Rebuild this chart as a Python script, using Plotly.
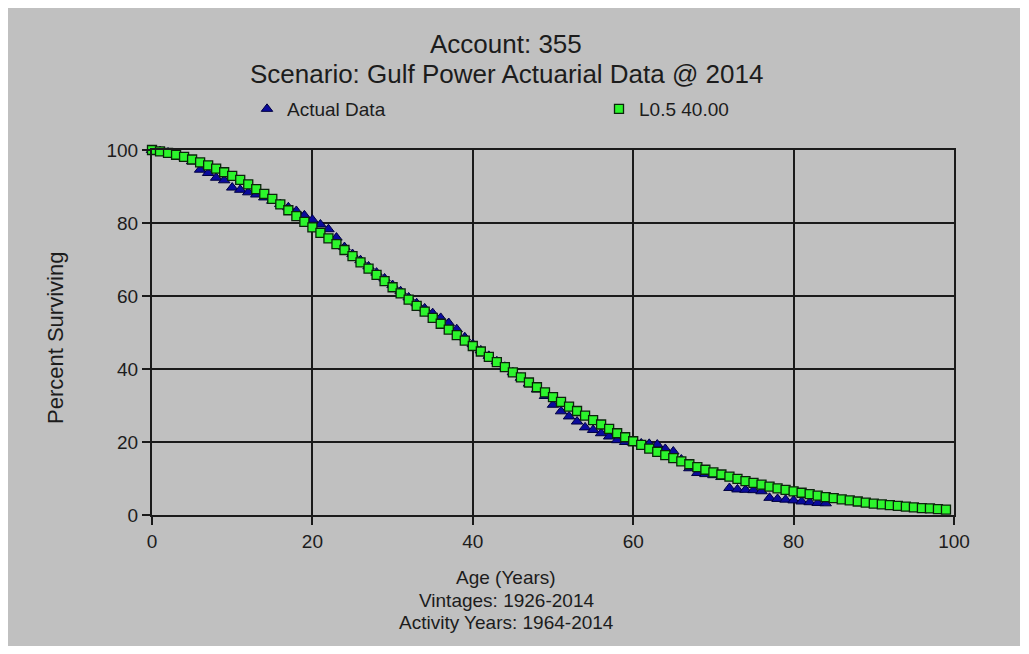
import plotly.graph_objects as go

# Survivor curve data (percent surviving by age in years)
fit_ages = list(range(0, 100))
fit_pct = [
    100.0, 99.6, 99.2, 98.7, 98.1, 97.4, 96.6, 95.8, 94.9, 93.9,
    92.9, 91.8, 90.6, 89.3, 88.0, 86.6, 85.1, 83.5, 81.9, 80.3,
    78.8, 77.3, 75.8, 74.2, 72.6, 70.9, 69.2, 67.5, 65.8, 64.1,
    62.4, 60.7, 59.0, 57.3, 55.7, 54.0, 52.4, 50.8, 49.3, 47.8,
    46.3, 44.8, 43.3, 41.9, 40.5, 39.1, 37.7, 36.3, 35.0, 33.6,
    32.3, 31.0, 29.7, 28.5, 27.2, 26.0, 24.8, 23.6, 22.4, 21.3,
    20.2, 19.2, 18.2, 17.3, 16.4, 15.6, 14.7, 13.9, 13.1, 12.4,
    11.7, 11.1, 10.5, 9.9, 9.3, 8.8, 8.3, 7.8, 7.3, 6.9,
    6.5, 6.1, 5.7, 5.3, 4.9, 4.6, 4.3, 4.0, 3.7, 3.4,
    3.1, 2.9, 2.7, 2.5, 2.3, 2.1, 1.9, 1.8, 1.6, 1.5,
]

actual_ages = list(range(0, 85))
actual_pct = [
    100.0, 99.7, 99.3, 98.8, 98.0, 96.9, 94.6, 93.7, 92.4, 91.7,
    89.7, 89.1, 88.4, 87.8, 87.0, 86.1, 85.2, 84.3, 83.3, 82.1,
    80.9, 79.6, 78.3, 76.0, 73.4, 71.5, 69.8, 68.1, 66.4, 64.8,
    63.0, 61.3, 59.6, 58.0, 56.6, 55.3, 54.0, 52.6, 50.9, 48.7,
    46.8, 45.1, 43.6, 42.1, 40.6, 39.1, 37.6, 36.0, 34.4, 32.6,
    30.2, 28.4, 27.0, 25.6, 24.0, 23.3, 22.4, 21.5, 20.5, 20.0,
    19.8, 19.6, 19.5, 19.3, 18.1, 17.4, 15.2, 12.8, 11.5, 11.2,
    10.9, 10.4, 7.4, 7.0, 6.9, 6.8, 6.5, 4.7, 4.4, 4.2,
    4.0, 3.7, 3.5, 3.3, 3.2,
]

tick_vals = [0, 20, 40, 60, 80, 100]

FONT = "Liberation Sans, Arial, sans-serif"
INK = "#1c1c1c"
PANEL = "#c0c0c0"

W, H = 1029, 654
L, R, T, B = 152, 75, 150, 139
PW, PH = W - L - R, H - T - B


def px_x(p):
    return (p - L) / PW


def px_y(p):
    return (H - B - p) / PH


fig = go.Figure()

fig.add_trace(go.Scatter(
    x=actual_ages, y=actual_pct, mode="markers", name="Actual Data",
    cliponaxis=False,
    marker=dict(symbol="triangle-up", size=10, color="#0a0a9c",
                line=dict(color="#000040", width=1)),
))
fig.add_trace(go.Scatter(
    x=fit_ages, y=fit_pct, mode="markers", name="L0.5 40.00",
    cliponaxis=False,
    marker=dict(symbol="square", size=9, color="#2cf52c",
                line=dict(color="#0b240b", width=1.3)),
))

axis_common = dict(
    range=[0, 100], tickvals=tick_vals, showgrid=True, gridcolor="#1a1a1a",
    gridwidth=1.6, zeroline=False, showline=True, mirror=True,
    linecolor="#1a1a1a", linewidth=2, ticks="outside", ticklen=8,
    tickcolor="#1a1a1a", tickwidth=1.5,
    tickfont=dict(family=FONT, size=19, color=INK),
)
fig.update_xaxes(**axis_common)
fig.update_yaxes(**axis_common)

cx = px_x(506)
annotations = [
    dict(text="Account: 355", x=cx, y=px_y(44), size=26),
    dict(text="Scenario: Gulf Power Actuarial Data @ 2014", x=cx, y=px_y(74), size=26),
    dict(text="Age (Years)", x=cx, y=px_y(577), size=19),
    dict(text="Vintages: 1926-2014", x=cx, y=px_y(600), size=19),
    dict(text="Activity Years: 1964-2014", x=cx, y=px_y(622), size=19),
]
ann = [
    dict(text=a["text"], x=a["x"], y=a["y"], xref="paper", yref="paper",
         xanchor="center", yanchor="middle", showarrow=False,
         font=dict(family=FONT, size=a["size"], color=INK))
    for a in annotations
]
ann.append(dict(text="Percent Surviving", x=px_x(55), y=px_y(338),
                xref="paper", yref="paper", xanchor="center", yanchor="middle",
                showarrow=False, textangle=-90,
                font=dict(family=FONT, size=22, color=INK)))

fig.update_layout(
    width=W, height=H,
    margin=dict(l=L, r=R, t=T, b=B),
    paper_bgcolor="white",
    plot_bgcolor=PANEL,
    showlegend=True,
    legend=dict(
        orientation="h", x=px_x(247), y=px_y(109), xanchor="left",
        yanchor="middle", bgcolor="rgba(0,0,0,0)",
        font=dict(family=FONT, size=19, color=INK),
        entrywidth=307, entrywidthmode="pixels",
    ),
    annotations=ann,
    shapes=[dict(type="rect", xref="paper", yref="paper", layer="below",
                 x0=px_x(8), x1=px_x(1020), y0=px_y(646), y1=px_y(8),
                 fillcolor=PANEL, line=dict(width=0))],
)

fig.write_html("out.html")
